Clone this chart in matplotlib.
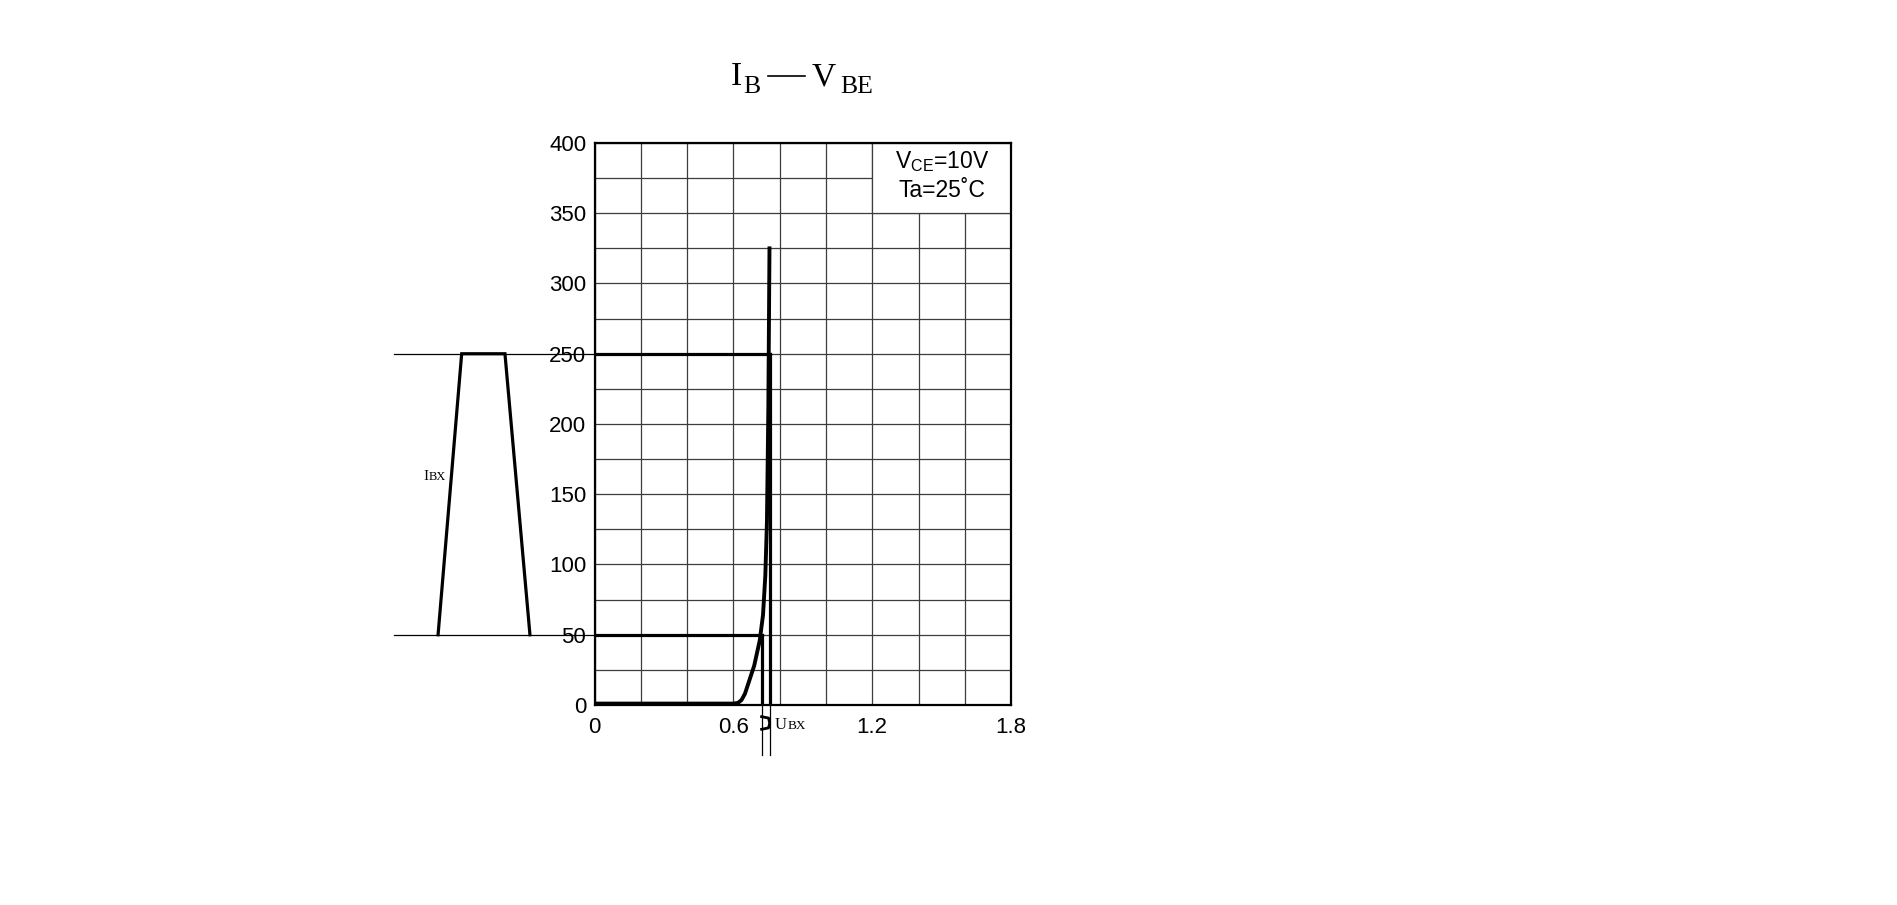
import matplotlib.pyplot as plt
from matplotlib.patches import Rectangle
from matplotlib.lines import Line2D

plt.rcParams['font.family'] = ['Liberation Sans', 'DejaVu Sans']
serif = ['Liberation Serif', 'DejaVu Serif']

# I_B - V_BE curve (V, uA)
vbe = [0, 0.60, 0.62, 0.635, 0.65, 0.69, 0.714, 0.728, 0.738, 0.745, 0.751, 0.756]
ib = [1, 1, 1.5, 3.5, 8, 28, 46, 64, 92, 130, 210, 325]

# drive levels marked on the chart
ib_low, ib_high = 50, 250
v_low, v_high = 0.722, 0.758

# trapezoid pulse sketch left of the axes (x in V units, outside the frame)
pulse_x = [-0.676, -0.574, -0.387, -0.279]
pulse_y = [ib_low, ib_high, ib_high, ib_low]
ext_left = -0.866
ext_bottom = -35.6

x_ticks = [0, 0.6, 1.2, 1.8]
y_ticks = [0, 50, 100, 150, 200, 250, 300, 350, 400]

W, H = 1897, 905
fig = plt.figure(figsize=(W / 100, H / 100), dpi=100)
ax = fig.add_axes([0.3134, 0.2210, 0.2196, 0.6210])

ax.set_xlim(0, 1.8)
ax.set_ylim(0, 400)
ax.set_xticks(x_ticks)
ax.set_xticklabels(['0', '0.6', '1.2', '1.8'])
ax.set_yticks(y_ticks)
ax.set_xticks([i * 0.2 for i in range(10)], minor=True)
ax.set_yticks(range(0, 401, 25), minor=True)
ax.tick_params(which='both', length=0, labelsize=16)
ax.tick_params(axis='x', pad=9)
ax.tick_params(axis='y', pad=6)
ax.set_axisbelow(True)
ax.grid(which='both', color='#3c3c3c', linewidth=0.9)
for s in ax.spines.values():
    s.set_linewidth(1.6)
    s.set_color('black')

# condition box in the top-right corner
ax.add_patch(Rectangle((1.2, 350), 0.6, 50, facecolor='white',
                       edgecolor='#3c3c3c', linewidth=0.9, zorder=1))
ax.text(1.5, 387, r'V$_\mathregular{CE}$=10V', ha='center', va='center', fontsize=16.5, zorder=3)
ax.text(1.5, 366.5, 'Ta=25˚C', ha='center', va='center', fontsize=16.5, zorder=3)

# curve
ax.plot(vbe, ib, color='black', linewidth=2.8, solid_joinstyle='round', zorder=4)

# marker lines inside the axes
ax.plot([0, v_high], [ib_high, ib_high], color='black', linewidth=2.3, zorder=4)
ax.plot([0, v_low], [ib_low, ib_low], color='black', linewidth=2.3, zorder=4)
ax.plot([v_high, v_high], [0, ib_high], color='black', linewidth=2.3, zorder=4)
ax.plot([v_low, v_low], [0, ib_low], color='black', linewidth=2.3, zorder=4)

# thin extensions outside the axes
ax.plot([ext_left, 0], [ib_high, ib_high], color='black', linewidth=0.9, clip_on=False)
ax.plot([ext_left, 0], [ib_low, ib_low], color='black', linewidth=0.9, clip_on=False)
ax.plot([v_low, v_low], [ext_bottom, 0], color='black', linewidth=0.9, clip_on=False)
ax.plot([v_high, v_high], [ext_bottom, 0], color='black', linewidth=0.9, clip_on=False)

# pulse sketch
ax.plot(pulse_x, pulse_y, color='black', linewidth=2.3, clip_on=False,
        solid_joinstyle='miter')
ax.text(-0.740, 160, 'I', fontsize=11, family=serif, va='baseline', ha='left')
ax.annotate('BX', xy=(-0.740, 160), xytext=(3.8, 0), textcoords='offset points',
            fontsize=9, family=serif, va='baseline', ha='left', annotation_clip=False)

# bracket between the two voltages
ax.plot([v_low, 0.752, 0.757, 0.752, v_low], [-8.3, -9.3, -12.8, -16.3, -17.3],
        color='black', linewidth=2.0, clip_on=False)
ax.text(0.780, -17.3, 'U', fontsize=12, family=serif, va='baseline', ha='left')
ax.annotate('BX', xy=(0.780, -17.3), xytext=(8.8, 0), textcoords='offset points',
            fontsize=9.5, family=serif, va='baseline', ha='left', annotation_clip=False)

# title I_B — V_BE built from pieces (pixel positions)
for txt, xp, yp, fs in [('I', 731, 85, 24), ('B', 743, 93, 18.5),
                        ('V', 812, 85, 24), ('BE', 840, 93, 18.5)]:
    fig.text(xp / W, 1 - yp / H, txt, ha='left', va='baseline', fontsize=fs, family=serif)
fig.add_artist(Line2D([768 / W, 805 / W], [1 - 76.5 / H, 1 - 76.5 / H],
                      color='black', linewidth=1.2))

fig.savefig('out.png', dpi=100)
